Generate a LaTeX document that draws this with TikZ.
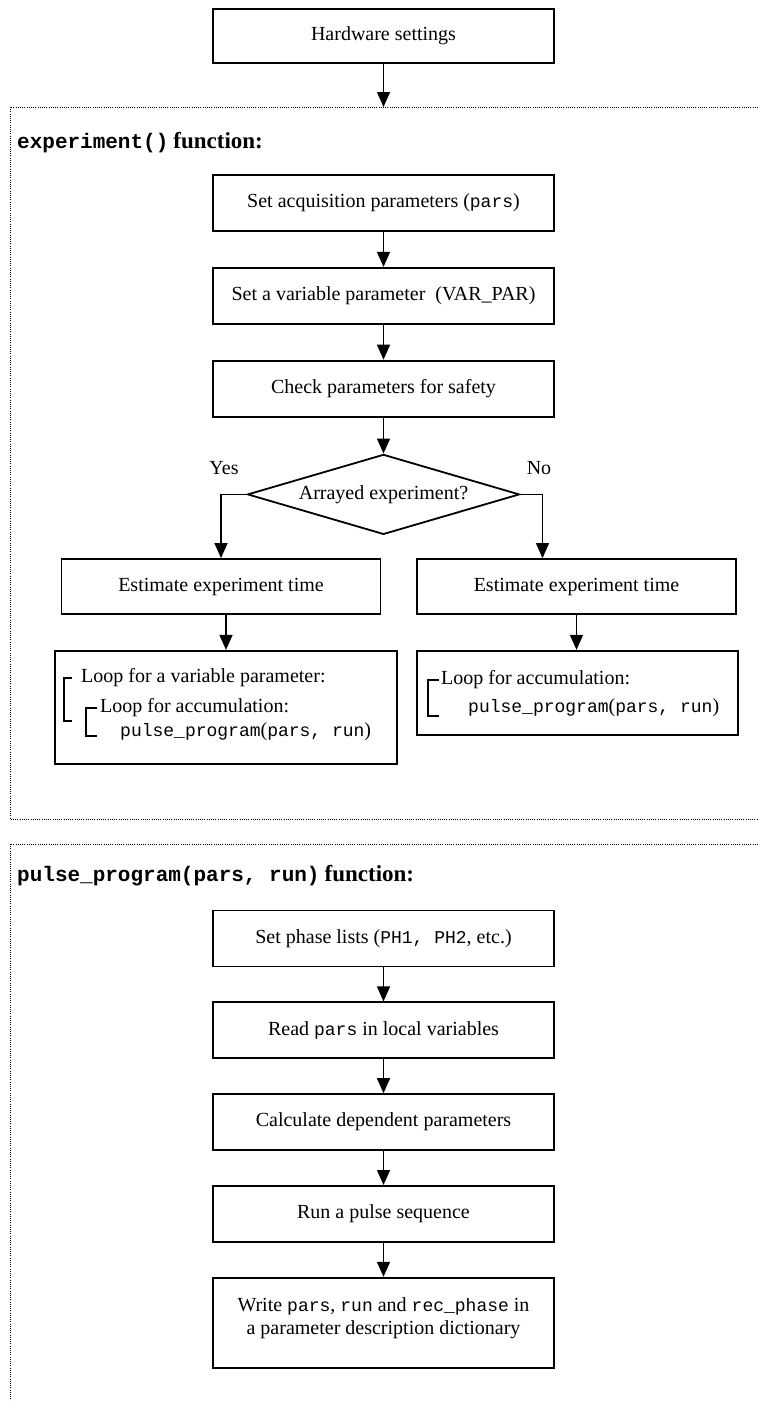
\documentclass[tikz,border=0pt]{standalone}
\usepackage{fontspec}
\setmainfont{Liberation Serif}
\setmonofont{Liberation Mono}
\usetikzlibrary{shapes.geometric, arrows.meta, positioning}

\newcommand{\codetxt}[1]{{\fontsize{18}{22}\selectfont\ttfamily #1}}

\begin{document}
\begin{tikzpicture}[
    x=1pt, y=-1pt,
    node distance=35pt,
    font=\fontsize{20}{23}\selectfont,
    block/.style={rectangle, draw=black, line width=1.8pt, minimum width=341pt, minimum height=56pt, align=center, inner sep=2pt},
    estbox/.style={block, minimum width=319pt, minimum height=55pt},
    decision/.style={diamond, draw=black, line width=1.8pt, aspect=3.4, minimum width=272pt, minimum height=80pt, inner sep=0pt},
    arrow/.style={-{Triangle[length=15pt, width=13pt]}, line width=1.4pt, draw=black},
    bracket/.style={line width=1.2pt, draw=black},
    frame/.style={line width=1pt, dash pattern=on 1pt off 1.2pt, draw=black},
    heading/.style={anchor=west, inner sep=0pt},
    loopline/.style={anchor=west, inner sep=0pt}
]
\useasboundingbox (0,0) rectangle (758,1401);

% Frames
\draw[frame] (758,107) -| (10,819) -- (758,819);
\draw[frame] (758,844) -| (10,1401);
\coordinate (f1top) at (383.5,107);

% Nodes
\node[block, minimum height=54pt] (hw) at (383.5,36) {Hardware settings};

\node[heading] (head1) at (17,143) {{\fontsize{21}{24}\selectfont\ttfamily\bfseries experiment()} {\fontsize{23}{26}\selectfont\bfseries function:}};

\node[block] (acq) at (383.5,203) {Set acquisition parameters (\codetxt{pars})};
\node[block, below=of acq] (var) {Set a variable parameter~ (VAR\_PAR)};
\node[block, below=of var] (chk) {Check parameters for safety};
\node[decision, below=36pt of chk] (dia) {Arrayed experiment?};
\node (yes) at (224,468) {Yes};
\node (no) at (539,468) {No};

\node[estbox] (est1) at (221,586.5) {Estimate experiment time};
\node[estbox] (est2) at (576.5,586.5) {Estimate experiment time};

\node[block, minimum width=342pt, minimum height=113pt, below=of est1, xshift=5pt] (loop1) {};
\node[block, minimum width=321pt, minimum height=84pt, below=of est2, xshift=1pt] (loop2) {};

\node[loopline] (la) at (81,678) {Loop for a variable parameter:};
\node[loopline] (lb) at (100,708) {Loop for accumulation:};
\node[loopline] (lc) at (120,732) {\codetxt{pulse\_program}(\codetxt{pars,~run})};
\node[loopline] (ra) at (441,680) {Loop for accumulation:};
\node[loopline] (rb) at (468,708) {\codetxt{pulse\_program}(\codetxt{pars,~run})};

\node[heading] (head2) at (17,876) {{\fontsize{21}{24}\selectfont\ttfamily\bfseries pulse\_program(pars, run)} {\fontsize{23}{26}\selectfont\bfseries function:}};

\node[block] (phase) at (383.5,938.5) {Set phase lists (\codetxt{PH1,~PH2}, etc.)};
\node[block, below=34pt of phase] (read) {Read \codetxt{pars} in local variables};
\node[block, below=34pt of read] (calc) {Calculate dependent parameters};
\node[block, below=34pt of calc] (run) {Run a pulse sequence};
\node[block, minimum height=90pt, below=34pt of run] (write) {Write \codetxt{pars}, \codetxt{run} and \codetxt{rec\_phase} in\\a parameter description dictionary\\[-10pt]~};

% Arrows
\draw[arrow] (hw) -- (f1top);
\draw[arrow] (acq) -- (var);
\draw[arrow] (var) -- (chk);
\draw[arrow] (chk) -- (dia);
\draw[arrow] (dia.west) -| (est1.north);
\draw[arrow] (dia.east) -| ([xshift=-34pt]est2.north);
\draw[arrow] (est1.south -| loop1.north) -- (loop1.north);
\draw[arrow] (est2.south) -- (est2.south |- loop2.north);

\draw[arrow] (phase) -- (read);
\draw[arrow] (read) -- (calc);
\draw[arrow] (calc) -- (run);
\draw[arrow] (run) -- (write);

% Loop brackets
\draw[bracket] ([xshift=-9pt]la.west) -- ++(-8,0) -- ++(0,43) -- ++(8,0);
\draw[bracket] ([xshift=-3pt]lb.west) -- ++(-11,0) -- ++(0,28) -- ++(11,0);
\draw[bracket] ([xshift=-2pt]ra.west) -- ++(-11,0) -- ++(0,36) -- ++(11,0);

\end{tikzpicture}
\end{document}
